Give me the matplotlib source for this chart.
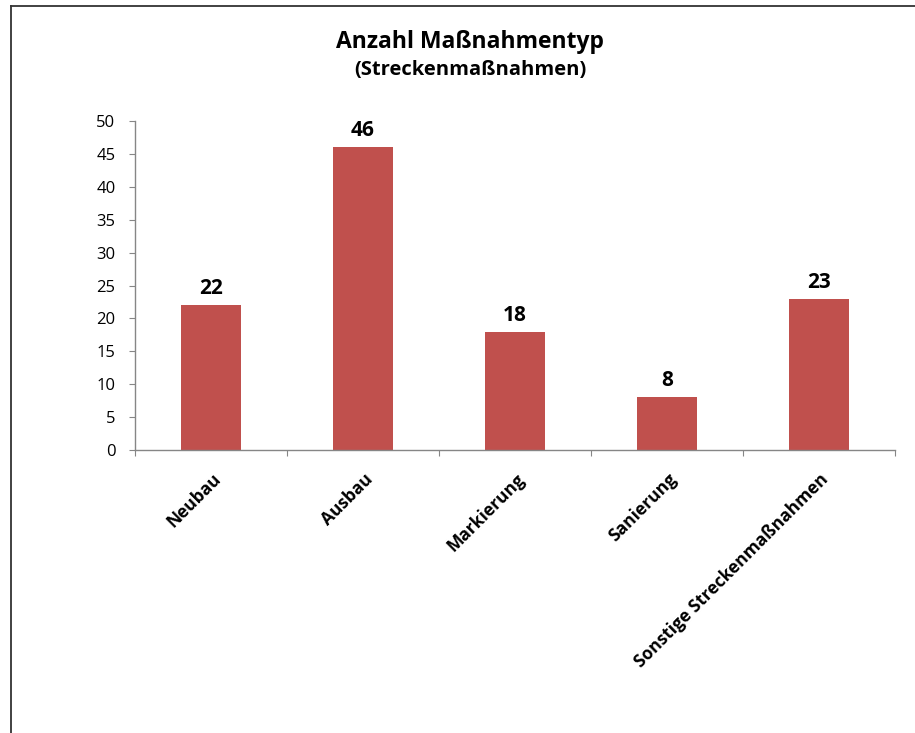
import matplotlib
matplotlib.use("Agg")
from matplotlib import pyplot as plt
from matplotlib.lines import Line2D
import numpy as np

plt.rcParams['font.family'] = ['Open Sans', 'DejaVu Sans']

categories = ['Neubau', 'Ausbau', 'Markierung', 'Sanierung', 'Sonstige Streckenmaßnahmen']
counts = [22, 46, 18, 8, 23]
yticks = [0, 5, 10, 15, 20, 25, 30, 35, 40, 45, 50]

W, H = 915, 733
fig = plt.figure(figsize=(W / 100, H / 100), dpi=100)
ax = fig.add_axes([135 / W, 1 - 450 / H, (895 - 135) / W, (450 - 121) / H])

bar_color = '#C0504D'
axis_color = '#868686'

x = np.arange(len(categories))
ax.bar(x, counts, width=0.4, color=bar_color)
for xi, v in zip(x, counts):
    ax.text(xi, v + 0.9, str(v), ha='center', va='bottom', fontsize=15, fontweight='bold')

ax.set_xlim(-0.5, len(categories) - 0.5)
ax.set_ylim(0, 50)
ax.set_yticks(yticks)
ax.tick_params(axis='y', direction='out', length=4.5, color=axis_color, labelsize=12, pad=9.5)

# category ticks at the boundaries, labels at centers
ax.set_xticks(np.arange(len(categories) + 1) - 0.5)
ax.set_xticklabels([])
ax.tick_params(axis='x', direction='out', length=4.5, color=axis_color)
for xi, lab in zip(x, categories):
    ax.annotate(lab, xy=(xi, 0), xycoords=('data', 'axes fraction'),
                xytext=(5, -19), textcoords='offset points',
                rotation=45, rotation_mode='anchor', ha='right', va='center',
                fontsize=12.5, fontweight='bold')

for s in ['top', 'right']:
    ax.spines[s].set_visible(False)
for s in ['left', 'bottom']:
    ax.spines[s].set_color(axis_color)
    ax.spines[s].set_linewidth(1.0)

# chart area continues past the right edge, so titles sit right of the figure centre
fig.text(470 / W, 1 - 42 / H, 'Anzahl Maßnahmentyp', ha='center', va='center', fontsize=16.5, fontweight='bold')
fig.text(470 / W, 1 - 70 / H, '(Streckenmaßnahmen)', ha='center', va='center', fontsize=14.5, fontweight='bold')

# outer chart frame
fig.add_artist(Line2D([10.5 / W, 10.5 / W], [0, 1 - 6 / H], transform=fig.transFigure, color='#333333', lw=1.3))
fig.add_artist(Line2D([10.5 / W, 1], [1 - 6 / H, 1 - 6 / H], transform=fig.transFigure, color='#333333', lw=1.3))

fig.savefig('out.png', dpi=100, facecolor='w')
